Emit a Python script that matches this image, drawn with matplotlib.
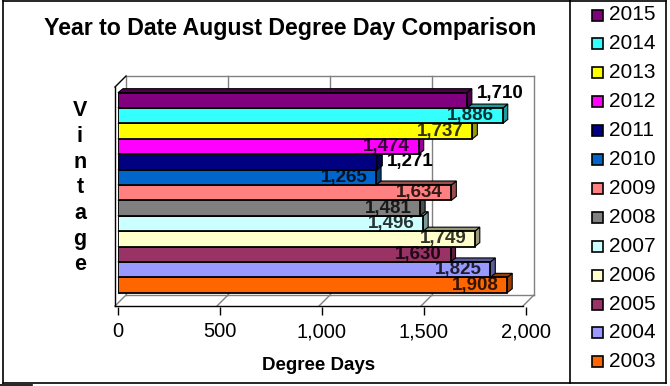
import matplotlib
matplotlib.use('Agg')
import matplotlib.pyplot as plt
from matplotlib.patches import Polygon, Rectangle
from matplotlib.lines import Line2D
import matplotlib.colors as mcolors

plt.rcParams['font.family'] = ['Liberation Sans', 'DejaVu Sans']

# ---- data ----
years = ['2015', '2014', '2013', '2012', '2011', '2010', '2009',
         '2008', '2007', '2006', '2005', '2004', '2003']
values = [1710, 1886, 1737, 1474, 1271, 1265, 1634, 1481, 1496, 1749, 1630, 1825, 1908]
colors = ['#800080', '#33FFFF', '#FFFF00', '#FF00FF', '#000080', '#0066CC', '#FF8080',
          '#808080', '#CCFFFF', '#FFFFCC', '#993366', '#9999FF', '#FF6600']
x_ticks = [0, 500, 1000, 1500, 2000]
x_tick_labels = ['0', '500', '1,000', '1,500', '2,000']
title = 'Year to Date August Degree Day Comparison'
x_title = 'Degree Days'
y_title = 'Vintage'
# labels drawn beyond the bar end (rest drawn inside the end)
label_outside = [True, False, False, False, True, False, False,
                 False, False, False, False, False, False]

# ---- layout ----
W, H = 670, 386
fig = plt.figure(figsize=(W / 100, H / 100), dpi=100)


def fx(px):
    return px / W


def fy(py):
    return 1 - py / H


ax_l, ax_r, ax_t, ax_b = 118, 526, 84, 303
ax = fig.add_axes([fx(ax_l), fy(ax_b), (ax_r - ax_l) / W, (ax_b - ax_t) / H])
n = len(values)
y0, y1 = -1.169, 13.065
ax.set_xlim(0, 2000)
ax.set_ylim(y0, y1)
ppx = (ax_r - ax_l) / 2000
ppy = (ax_b - ax_t) / (y1 - y0)


def dxp(p):
    return p / ppx


def dyp(p):
    return p / ppy


# planes
fxo, fyo = dxp(-3), dyp(-3)   # front plane offset
bxo, byo = dxp(8), dyp(8)     # back plane offset
gray = '#808080'


def seg(x_a, y_a, x_b, y_b, c=gray, lw=1.0, z=0.5):
    ax.add_line(Line2D([x_a, x_b], [y_a, y_b], color=c, lw=lw, zorder=z, clip_on=False))


xmax = x_ticks[-1]
# back wall
seg(0 + bxo, y1 + byo, xmax + bxo, y1 + byo)
for t in x_ticks:
    seg(t + bxo, y0 + byo, t + bxo, y1 + byo)
    seg(t + fxo, y0 + fyo, t + bxo, y0 + byo)
seg(0 + bxo, y0 + byo, xmax + bxo, y0 + byo)
# front edges
seg(fxo, y0 + fyo, xmax + fxo, y0 + fyo, c='black', lw=1.0, z=0.6)
seg(fxo, y0 + fyo, fxo, y1 + fyo, c='black', lw=1.0, z=0.6)
seg(fxo, y1 + fyo, bxo, y1 + byo, c='black', lw=1.0, z=0.6)

# bars (3D look: top and side faces)
ddx, ddy = dxp(5), dyp(4)
for i in range(n - 1, -1, -1):
    y = n - 1 - i
    v = values[i]
    c = colors[i]
    dark = tuple(0.6 * ch for ch in mcolors.to_rgb(c))
    z = 2 + (n - 1 - i) * 0.5
    side = Polygon([(v, y - 0.5), (v + ddx, y - 0.5 + ddy), (v + ddx, y + 0.5 + ddy), (v, y + 0.5)],
                   closed=True, facecolor=dark, edgecolor='black', lw=0.8, zorder=z, clip_on=False)
    top = Polygon([(0, y + 0.5), (v, y + 0.5), (v + ddx, y + 0.5 + ddy), (ddx, y + 0.5 + ddy)],
                  closed=True, facecolor=dark, edgecolor='black', lw=0.8, zorder=z, clip_on=False)
    ax.add_patch(side)
    ax.add_patch(top)
    ax.barh(y, v, height=1.0, left=0, color=c, edgecolor='black', lw=1.3, zorder=z + 0.2)

# value labels
for i in range(n):
    y = n - 1 - i
    v = values[i]
    if label_outside[i]:
        lx = v + dxp(33)
        ly = y + (dyp(7) if i == 0 else 0)
        alpha = 1.0
    else:
        lx = v - dxp(32)
        ly = y
        alpha = 0.8
    ax.text(lx, ly, f'{v:,}', ha='center', va='center', fontsize=13.5,
            fontweight='bold', color='black', alpha=alpha, zorder=20, clip_on=False)

# axes styling
for s in ['left', 'right', 'top']:
    ax.spines[s].set_visible(False)
ax.spines['bottom'].set_position(('outward', 3))
ax.spines['bottom'].set_visible(False)
ax.set_yticks([])
ax.set_xticks(x_ticks)
ax.set_xticklabels(x_tick_labels, fontsize=14.5)
ax.tick_params(axis='x', direction='out', length=6, width=1, color='black', pad=5)
ax.patch.set_alpha(0)

# titles
fig.text(fx(290), fy(28), title, ha='center', va='center', fontsize=16.7, fontweight='bold')
fig.text(fx(319), fy(365), x_title, ha='center', va='center', fontsize=13.5, fontweight='bold')
for k, ch in enumerate(y_title):
    fig.text(fx(80), fy(111 + k * 25.6), ch, ha='center', va='center', fontsize=15.5, fontweight='bold')

# legend (manual, Excel style)
for i, yr in enumerate(years):
    yc = 15 + i * 28.9
    fig.add_artist(Rectangle((fx(592), fy(yc + 5.5)), 11 / W, 11 / H, transform=fig.transFigure,
                             facecolor=colors[i], edgecolor='black', lw=1.2))
    fig.text(fx(609), fy(yc), yr, ha='left', va='center', fontsize=15)

# borders
def fline(xa, ya, xb, yb, lw=1.2):
    fig.add_artist(Line2D([fx(xa), fx(xb)], [fy(ya), fy(yb)], color='black', lw=lw,
                          transform=fig.transFigure))


fline(2.5, 0.5, 570, 0.5)
fline(2.5, 0.5, 2.5, 383)
fline(2.5, 383, 666, 383)
fline(570, 0.5, 570, 383)
fline(666, 0.5, 666, 383)
fline(570, 0.5, 666, 0.5)
fline(0, 385, 32, 385)

fig.savefig('out.png', dpi=100)
